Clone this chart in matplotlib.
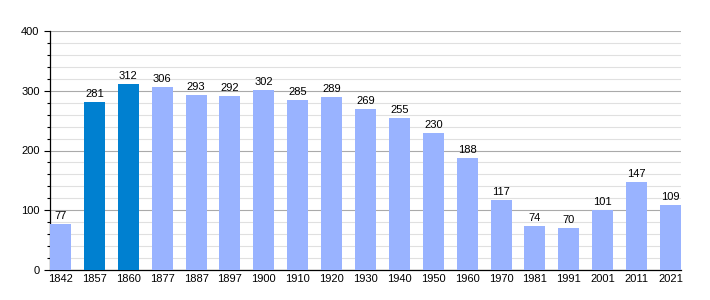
import matplotlib
matplotlib.use("Agg")
import matplotlib.pyplot as plt
from matplotlib.ticker import MultipleLocator

years = ["1842", "1857", "1860", "1877", "1887", "1897", "1900", "1910", "1920",
         "1930", "1940", "1950", "1960", "1970", "1981", "1991", "2001", "2011", "2021"]
population = [77, 281, 312, 306, 293, 292, 302, 285, 289, 269, 255, 230, 188,
              117, 74, 70, 101, 147, 109]
highlighted = ["1857", "1860"]


def main():
    plt.rcParams['font.family'] = ['Liberation Sans', 'DejaVu Sans']
    fig = plt.figure(figsize=(7.1, 3.0), dpi=100)
    ax = fig.add_axes([50 / 710, 30 / 300, 631 / 710, 239 / 300])

    colors = ["#0080d0" if y in highlighted else "#99b3ff" for y in years]
    x = range(len(years))
    ax.bar(x, population, width=0.62, color=colors, zorder=3)
    for i, v in zip(x, population):
        ax.text(i, v + 5, str(v), ha="center", va="bottom", fontsize=8, zorder=4)

    ax.set_xlim(-0.31, len(years) - 1 + 0.31)
    ax.set_ylim(0, 400)
    ax.set_xticks(list(x))
    ax.set_xticklabels(years, fontsize=8)
    ax.yaxis.set_major_locator(MultipleLocator(100))
    ax.yaxis.set_minor_locator(MultipleLocator(20))
    ax.tick_params(axis="y", labelsize=8, length=4, width=0.8)
    ax.tick_params(axis="y", which="minor", length=2.5, width=0.8)
    ax.tick_params(axis="x", length=0, pad=3)
    ax.grid(True, axis="y", which="major", color="#aaaaaa", linewidth=0.8, zorder=1)
    ax.grid(True, axis="y", which="minor", color="#e0e0e0", linewidth=0.8, zorder=0)
    for s in ["top", "right"]:
        ax.spines[s].set_visible(False)
    ax.spines["left"].set_linewidth(0.9)
    ax.spines["bottom"].set_linewidth(0.9)

    fig.savefig("out.png", dpi=100)


if __name__ == '__main__':
    main()
